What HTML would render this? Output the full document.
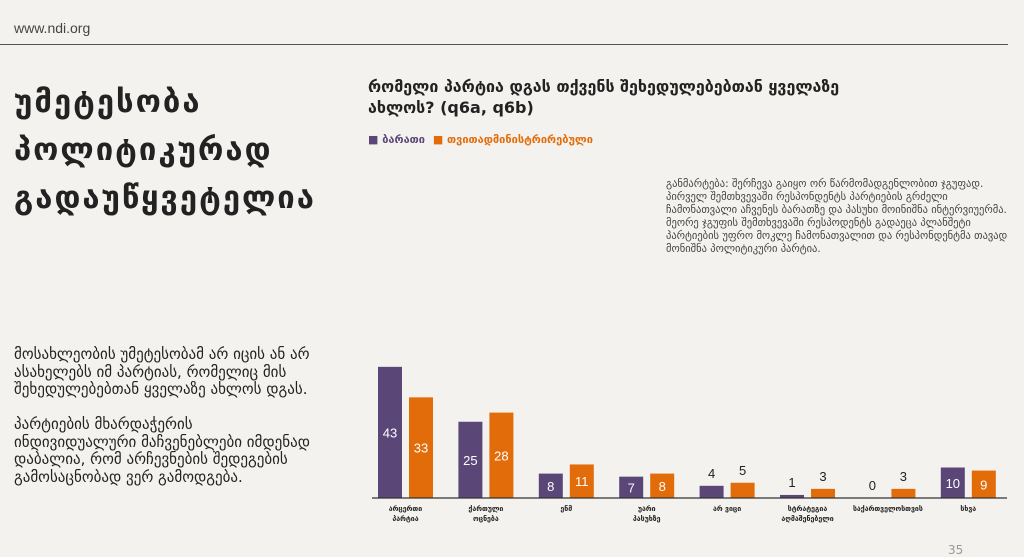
<!DOCTYPE html>
<html><head><meta charset="utf-8">
<style>
body{margin:0;width:1024px;height:553px;background:#f4f2ee;font-family:"DejaVu Sans","Liberation Sans",sans-serif;overflow:hidden;position:relative;color:#333}
.abs{position:absolute}
</style></head><body>
<div class="abs" style="left:14px;top:20px;font-size:14px;color:#444;font-family:'Liberation Sans',sans-serif">www.ndi.org</div>
<div class="abs" style="left:0;top:44px;width:1008px;height:1px;background:#555"></div>
<div class="abs" style="left:14px;top:78px;font-size:31px;font-weight:bold;line-height:48px;color:#222;letter-spacing:2px">უმეტესობა<br>პოლიტიკურად<br>გადაუწყვეტელია</div>
<div class="abs" style="left:14px;top:346px;font-size:15px;line-height:17.5px;color:#222;width:305px">მოსახლეობის უმეტესობამ არ იცის ან არ ასახელებს იმ პარტიას, რომელიც მის შეხედულებებთან ყველაზე ახლოს დგას.<br><br>პარტიების მხარდაჭერის ინდივიდუალური მაჩვენებლები იმდენად დაბალია, რომ არჩევნების შედეგების გამოსაცნობად ვერ გამოდგება.</div>
<div class="abs" style="left:368px;top:76px;font-size:16px;font-weight:bold;line-height:21px;color:#222;width:540px">რომელი პარტია დგას თქვენს შეხედულებებთან ყველაზე ახლოს? (q6a, q6b)</div>
<div class="abs" style="left:368px;top:133px;font-size:11px;font-weight:bold">
<span style="color:#5b4678">■ ბარათი</span>
<span style="color:#e36c0a;margin-left:4px">■ თვითადმინისტრირებული</span></div>
<div class="abs" style="left:666px;top:178px;font-size:10.5px;line-height:13px;color:#444;width:345px">განმარტება: შერჩევა გაიყო ორ წარმომადგენლობით ჯგუფად. პირველ შემთხვევაში რესპონდენტს პარტიების გრძელი ჩამონათვალი აჩვენეს ბარათზე და პასუხი მოინიშნა ინტერვიუერმა. მეორე ჯგუფის შემთხვევაში რესპოდენტს გადაეცა პლანშეტი პარტიების უფრო მოკლე ჩამონათვალით და რესპონდენტმა თავად მონიშნა პოლიტიკური პარტია.</div>
<div class="abs" style="left:948px;top:543px;font-size:12px;color:#999">35</div>
<svg class="abs" style="left:0;top:0" width="1024" height="553" id="chart"></svg>
<script>
const categories=[["არცერთი","პარტია"],["ქართული","ოცნება"],["ენმ"],["უარი","პასუხზე"],["არ ვიცი"],["სტრატეგია","აღმაშენებელი"],["საქართველოსთვის"],["სხვა"]];
const cardValues=[43,25,8,7,4,1,0,10];
const selfValues=[33,28,11,8,5,3,3,9];
const svg=document.getElementById('chart');
const NS='http://www.w3.org/2000/svg';
const base=498,scale=3.05,x0=378,step=80.4,bw=24,off2=31;
function y(v){return base-v*scale;}
function gx(i){return x0+i*step;}
function mk(t,a){const e=document.createElementNS(NS,t);for(const k in a)e.setAttribute(k,a[k]);svg.appendChild(e);return e;}
categories.forEach((c,i)=>{
 [[cardValues,'#5b4678',0],[selfValues,'#e36c0a',off2]].forEach(([arr,col,off],s)=>{
  const v=arr[i];const r=mk('rect',{x:gx(i)+off,y:y(v),width:bw,height:v*scale,fill:col});
  
  
  const inside=v>=6;
  const t=mk('text',{x:gx(i)+off+bw/2,y:inside?(y(v)+v*scale/2+5):(y(v)-8),'text-anchor':'middle','font-size':13,fill:inside?'#fff':'#222','font-family':'Liberation Sans,sans-serif'});
  t.textContent=v;
  
  
 });
 c.forEach((ln,j)=>{const t=mk('text',{x:gx(i)+(bw+off2)/2,y:511+j*10,'text-anchor':'middle','font-size':7,'font-weight':'bold',fill:'#222'});t.textContent=ln;
 
 });
});
const l=mk('line',{x1:372,x2:1007,y1:base,y2:base,stroke:'#333','stroke-width':1.2});


</script>
</body></html>
